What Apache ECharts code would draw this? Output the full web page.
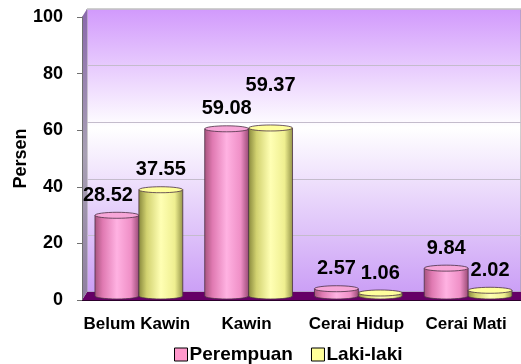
<!DOCTYPE html>
<html>
<head>
<meta charset="utf-8">
<script src="https://cdn.jsdelivr.net/npm/echarts@6/dist/echarts.min.js"></script>
<style>
  html, body { margin: 0; padding: 0; background: #fff; }
  #chart { width: 521px; height: 364px; }
</style>
</head>
<body>
<div id="chart"></div>
<script>
const categories = ['Belum Kawin', 'Kawin', 'Cerai Hidup', 'Cerai Mati']
const perempuan = [28.52, 59.08, 2.57, 9.84]
const lakiLaki = [37.55, 59.37, 1.06, 2.02]
const Y_MIN = 0
const Y_MAX = 100
const Y_STEP = 20

// front plane of the plot and the 3d depth offset of the back wall
const LEFT = 82
const TOP = 17
const WIDTH = 445
const HEIGHT = 283
const DEPTH_X = 5
const DEPTH_Y = 8
const FONT = '"Liberation Sans", Arial, sans-serif'

const pinkBody = [
  { offset: 0, color: '#a8557f' },
  { offset: 0.18, color: '#e07ab2' },
  { offset: 0.5, color: '#ffb2e2' },
  { offset: 0.82, color: '#ef8fc6' },
  { offset: 1, color: '#9c4c78' }
]
const yellowBody = [
  { offset: 0, color: '#8a8a3e' },
  { offset: 0.18, color: '#d2d270' },
  { offset: 0.5, color: '#ffffb4' },
  { offset: 0.82, color: '#efef90' },
  { offset: 1, color: '#96964a' }
]

function cylinder (side, stops, topColor, other) {
  return function (params, api) {
    let cat = api.value(0)
    let val = api.value(1)
    let top = api.coord([cat, val])
    let base = api.coord([cat, 0])
    let band = api.size([1, 0])[0]
    let w = band * 0.4
    let x = (side === 0 ? top[0] - w : top[0]) + 2
    let yTop = top[1] - DEPTH_Y / 2
    let yBase = base[1] - DEPTH_Y / 2
    let rx = w / 2
    let ry = 3
    let cx = x + rx
    let otherTop = api.coord([cat, other[cat]])[1] - DEPTH_Y / 2
    let labelBottom = yTop - ry - 7
    let lift = 0
    let shift = 0
    if (side === 1) {
      // second label goes up when two wide labels would sit on each other
      let wide = val.toFixed(2).length > 4 && other[cat].toFixed(2).length > 4
      if (wide && Math.abs(otherTop - yTop) < 20) lift = 22
    } else if (otherTop < labelBottom - 4) {
      // first label moves aside when it runs into the taller neighbour
      shift = 9
    }
    let grad = () => new echarts.graphic.LinearGradient(0, 0, 1, 0, stops)
    let edge = { stroke: '#4a3044', lineWidth: 0.8 }
    return {
      type: 'group',
      children: [
        { type: 'ellipse', shape: { cx: cx, cy: yBase, rx: rx, ry: ry }, style: Object.assign({ fill: grad() }, edge) },
        { type: 'rect', shape: { x: x, y: yTop, width: w, height: yBase - yTop }, style: { fill: grad() } },
        { type: 'line', shape: { x1: x, y1: yTop, x2: x, y2: yBase }, style: edge },
        { type: 'line', shape: { x1: x + w, y1: yTop, x2: x + w, y2: yBase }, style: edge },
        { type: 'ellipse', shape: { cx: cx, cy: yTop, rx: rx, ry: ry }, style: Object.assign({ fill: topColor }, edge) },
        {
          type: 'text',
          x: cx - shift,
          y: labelBottom - lift,
          style: {
            text: val.toFixed(2),
            font: 'bold 20px ' + FONT,
            fill: '#000',
            align: 'center',
            verticalAlign: 'bottom'
          }
        }
      ]
    }
  }
}

let myChart = echarts.init(document.getElementById('chart'))
myChart.setOption({
  animation: false,
  legend: {
    left: 169,
    top: 340,
    itemWidth: 13,
    itemHeight: 13,
    itemGap: 18,
    icon: 'rect',
    textStyle: { fontFamily: FONT, fontWeight: 'bold', fontSize: 19, color: '#000', padding: [0, 0, 0, -3] },
    data: [
      { name: 'Perempuan', itemStyle: { color: '#ff99cc', borderColor: '#000', borderWidth: 1 } },
      { name: 'Laki-laki', itemStyle: { color: '#ffff99', borderColor: '#000', borderWidth: 1 } }
    ]
  },
  grid: [
    { left: LEFT, top: TOP, width: WIDTH, height: HEIGHT },
    {
      left: LEFT + DEPTH_X,
      top: TOP - DEPTH_Y,
      width: WIDTH,
      height: HEIGHT,
      show: true,
      borderColor: '#a0a0a0',
      borderWidth: 1,
      backgroundColor: new echarts.graphic.LinearGradient(0, 0, 0, 1, [
        { offset: 0, color: '#d199fc' },
        { offset: 0.42, color: '#ffffff' },
        { offset: 1, color: '#cb9ff6' }
      ])
    }
  ],
  xAxis: [
    {
      type: 'category',
      gridIndex: 0,
      data: categories,
      z: 3,
      axisLine: { lineStyle: { color: '#2a002a', width: 1 } },
      axisTick: { length: 5, lineStyle: { color: '#404040' } },
      axisLabel: { interval: 0, fontFamily: FONT, fontWeight: 'bold', fontSize: 17, color: '#000', margin: 16 }
    },
    { type: 'category', gridIndex: 1, data: categories, show: false }
  ],
  yAxis: [
    {
      type: 'value',
      gridIndex: 0,
      min: Y_MIN,
      max: Y_MAX,
      interval: Y_STEP,
      z: 3,
      name: 'Persen',
      nameLocation: 'middle',
      nameRotate: 90,
      nameGap: 52,
      nameMoveOverlap: false,
      nameTextStyle: { fontFamily: FONT, fontWeight: 'bold', fontSize: 18, color: '#000' },
      axisLine: { show: true, lineStyle: { color: '#707070' } },
      axisTick: { show: true, length: 5, lineStyle: { color: '#707070' } },
      splitLine: { show: false },
      axisLabel: { fontFamily: FONT, fontWeight: 'bold', fontSize: 18, color: '#000', margin: 19 }
    },
    {
      type: 'value',
      gridIndex: 1,
      min: Y_MIN,
      max: Y_MAX,
      interval: Y_STEP,
      axisLine: { show: false },
      axisTick: { show: false },
      axisLabel: { show: false },
      splitLine: { lineStyle: { color: '#c4bccc', width: 1 } }
    }
  ],
  graphic: [
    {
      // floor
      type: 'polygon',
      z: 1,
      shape: { points: [[LEFT, TOP + HEIGHT], [LEFT + DEPTH_X, TOP + HEIGHT - DEPTH_Y], [530, TOP + HEIGHT - DEPTH_Y], [530, TOP + HEIGHT]] },
      style: { fill: '#660066' }
    },
    {
      // side wall
      type: 'polygon',
      z: 1,
      shape: { points: [[LEFT, TOP], [LEFT + DEPTH_X, TOP - DEPTH_Y], [LEFT + DEPTH_X, TOP + HEIGHT - DEPTH_Y], [LEFT, TOP + HEIGHT]] },
      style: {
        fill: new echarts.graphic.LinearGradient(0, 0, 0, 1, [
          { offset: 0, color: '#8a68ac' },
          { offset: 0.5, color: '#a8a0b4' },
          { offset: 1, color: '#8f7fa0' }
        ])
      }
    }
  ],
  series: [
    {
      name: 'Perempuan',
      type: 'custom',
      xAxisIndex: 0,
      yAxisIndex: 0,
      z: 4,
      itemStyle: { color: '#ff99cc' },
      renderItem: cylinder(0, pinkBody, '#f7a6d8', lakiLaki),
      data: perempuan.map((v, i) => [i, v])
    },
    {
      name: 'Laki-laki',
      type: 'custom',
      xAxisIndex: 0,
      yAxisIndex: 0,
      z: 4,
      itemStyle: { color: '#ffff99' },
      renderItem: cylinder(1, yellowBody, '#ffff9c', perempuan),
      data: lakiLaki.map((v, i) => [i, v])
    }
  ]
})
</script>
</body>
</html>
